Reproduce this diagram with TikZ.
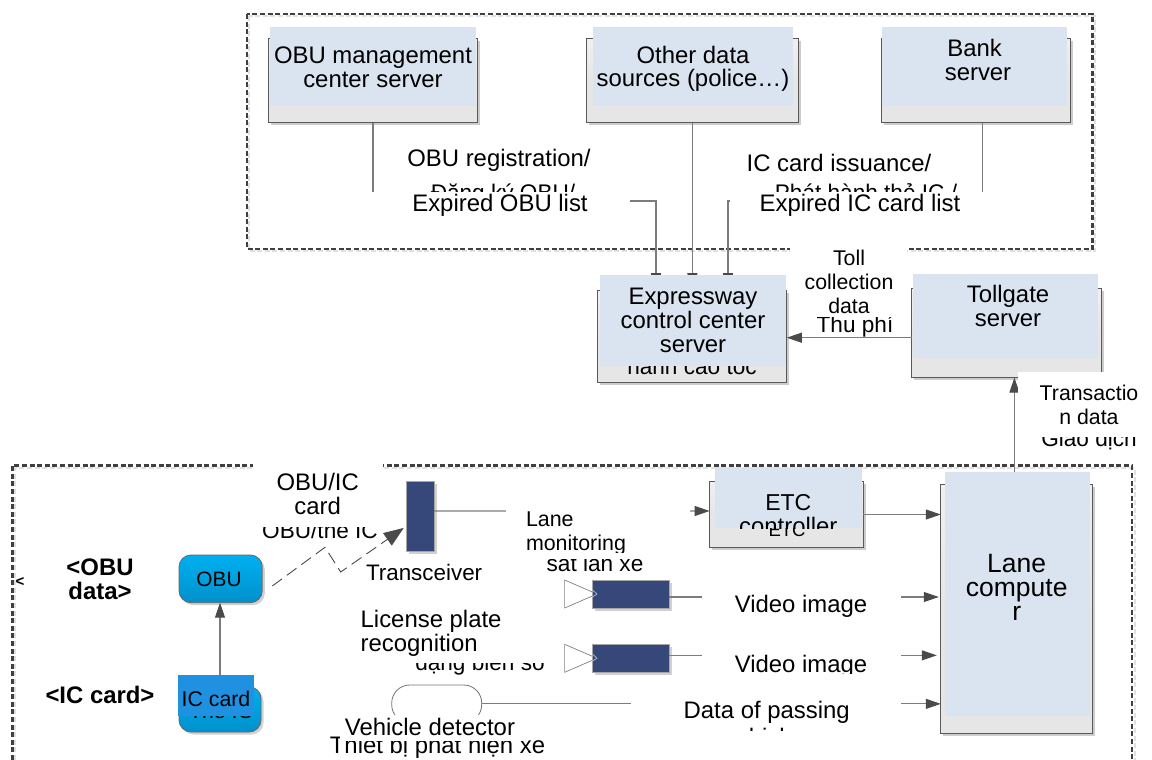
\documentclass[tikz,border=0pt]{standalone}
\usepackage{fontspec}
\setmainfont{Liberation Sans}
\usetikzlibrary{arrows.meta,shadows,calc}
\definecolor{frameC}{HTML}{404040}
\definecolor{lineC}{HTML}{7C7C7C}
\definecolor{tipC}{HTML}{4A4A4A}
\definecolor{paleB}{HTML}{DAE4F0}
\definecolor{grayB}{HTML}{E6E6E6}
\definecolor{navy}{HTML}{364779}
\definecolor{icB}{HTML}{2090E0}
\definecolor{cyTop}{HTML}{00B0F0}
\definecolor{cyBot}{HTML}{0090CC}
\newcommand{\rbox}[6]{%
  \pgfmathsetmacro\rw{#5-#3}\pgfmathsetmacro\rh{#6-#4}%
  \node[#1,minimum width=\rw pt,minimum height=\rh pt,inner sep=0pt,outer sep=0pt] (#2) at ({(#3+#5)/2},{(#4+#6)/2}) {};}
\newcommand{\fs}[1]{\fontsize{#1}{24}\selectfont}
\tikzset{
  frameline/.style={draw=frameC,line width=2.7pt,dash pattern=on 5pt off 2.6pt},
  frameshadow/.style={draw=black!12,line width=2pt,dash pattern=on 5pt off 2.6pt},
  server/.style={draw=black!65,line width=1pt,top color=black!6,bottom color=grayB,middle color=grayB,drop shadow={shadow xshift=2.5pt,shadow yshift=-2.5pt,fill=black!20,opacity=1}},
  paleblue/.style={fill=paleB},
  mask/.style={fill=white},
  navybox/.style={fill=navy,draw=black!35,line width=.5pt,drop shadow={shadow xshift=2.5pt,shadow yshift=-2.5pt,fill=black!18,opacity=1}},
  cyanbox/.style={draw=black!60,line width=.8pt,rounded corners=12pt,top color=cyTop,bottom color=cyBot,drop shadow={shadow xshift=2.5pt,shadow yshift=-2.5pt,fill=black!18,opacity=1}},
  pill/.style={draw=black!55,line width=.8pt,fill=white,rounded corners=18pt},
  conn/.style={draw=lineC,line width=1.1pt,-{Triangle[length=15pt,width=10pt,color=tipC]}},
  longtip/.style={draw=lineC,line width=1.1pt,-{Triangle[length=17.5pt,width=10pt,color=tipC]}},
  wire/.style={draw=tipC,line width=.9pt,dash pattern=on 12pt off 6pt},
  lab/.style={anchor=base,inner sep=0pt,outer sep=0pt,align=center,font=\fs{23.9}},
  labL/.style={lab,align=left,anchor=base west},
  small/.style={lab,font=\fs{21.3}},
  sub/.style={lab,font=\fs{22.6}},
  bold/.style={lab,font=\fs{23.9}\bfseries},
  horn/.style={draw=black!50,line width=.7pt,fill=white}
}
\begin{document}
\begin{tikzpicture}[x=1pt,y=-1pt]
\useasboundingbox (0,0) rectangle (1152,760);
% frames
\draw[frameshadow] (249,16) rectangle (1095,251);
\draw[frameshadow] (15,760) -- (15,468) -- (1135,468) -- (1135,760);
\draw[frameline] (247,14) rectangle (1092.6,249);
\draw[frameline] (12.3,760) -- (12.3,465.7) -- (1132,465.7) -- (1132,760);
% server boxes
\rbox{server}{obu}{268.3}{39}{477.7}{122.7}
\rbox{server}{oth}{586}{39}{798.7}{122.7}
\rbox{server}{bnk}{881.7}{39}{1070}{122.7}
\rbox{server}{exp}{597}{290.7}{786.8}{382.7}
\rbox{server}{tol}{911.7}{288}{1101}{377.7}
\rbox{server}{etc}{709.6}{481.7}{863.3}{547.3}
\rbox{server}{lan}{940.8}{484}{1092}{733.3}
% devices
\rbox{cyanbox}{dobu}{179}{555}{262.3}{602.7}
\rbox{cyanbox}{dic}{179}{686.7}{261}{732}
\rbox{navybox}{trx}{406}{481}{434}{551.7}
\draw[horn] (564.6,580) -- (564.6,608) -- (597,594) -- cycle;
\draw[horn] (564.6,644.3) -- (564.6,672.3) -- (597,658.3) -- cycle;
\rbox{navybox}{cama}{592.5}{580}{669}{608.7}
\rbox{navybox}{camb}{592.5}{644}{669}{672.7}
\draw[white!70!navy,line width=.6pt] (592.5,590) -- (597,594) -- (592.5,597);
\draw[white!70!navy,line width=.6pt] (592.5,654) -- (597,658.3) -- (592.5,661);
\rbox{pill}{det}{391.7}{685}{481.7}{722.7}
% connectors
\coordinate (bendO) at (656,201);
\coordinate (bendI) at (728,201);
\draw[longtip] (obu.south) |- (bendO) -- (bendO |- exp.north);
\draw[longtip] (oth.south) -- (oth.south |- exp.north);
\draw[longtip] ([xshift=6.85pt]bnk.south) |- (bendI) -- (bendI |- exp.north);
\coordinate (cT) at ([yshift=-1pt]exp.east);
\draw[conn] (cT -| tol.west) -- (cT);
\coordinate (cL) at ([xshift=-2pt]lan.north);
\draw[conn] (cL) -- (cL |- tol.south);
\draw[conn] ([yshift=5.35pt]trx.east) -- ([yshift=3.5pt]etc.west);
\draw[conn] (etc.east) -- (etc.east -| lan.west);
\coordinate (cA) at ([yshift=-2.65pt]cama.east);
\coordinate (cB) at ([yshift=3pt]camb.east);
\draw[conn,shorten >=2pt] (cA) -- (cA -| lan.west);
\draw[conn,shorten >=4pt] (cB) -- (cB -| lan.west);
\draw[conn] (det.east) -- (det.east -| lan.west);
\draw[conn] (dic.north) -- (dic.north |- dobu.south);
\coordinate (zA) at ([xshift=10pt,yshift=-7.15pt]dobu.east);
\coordinate (zB) at (325,547.3);
\coordinate (zC) at (340.7,572);
\draw[wire,-{Triangle[length=20pt,width=15pt,color=tipC]},shorten >=2.7pt] (zA) -- (zB) -- (zC) -- ([yshift=-10pt]trx.west);
% under-lying text fragments
\node[sub] (frReg) at (503,200) {Đăng ký OBU/};
\node[sub] (frIss) at (866,200) {Phát hành thẻ IC /};
\node[sub] (frThu) at (855,332.3) {Thu phí};
\node[sub] (frExp) at (692,374) {hành cao tốc};
\node[sub] (frGia) at (1089,446) {Giao dịch};
\node[sub] (frCar) at (320,538.3) {OBU/thẻ IC};
\node[sub] (frSat) at (595,571) {sát làn xe};
\node[sub] (frDan) at (480,670) {dạng biển số};
\node[lab] (frThi) at (437.5,753.3) {Thiết bị phát hiện xe};
\node[lab,font=\fs{18.5}] (frEtc) at (787,536.7) {ETC};
\node[small] (frThe) at (221,718) {Thẻ IC};
% pale boxes
\rbox{paleblue}{obuP}{270}{27}{476}{106}
\rbox{paleblue}{othP}{592.7}{27}{792.7}{106}
\rbox{paleblue}{bnkP}{882}{27}{1067}{106}
\rbox{paleblue}{expP}{600}{275}{785.7}{366}
\rbox{paleblue}{tolP}{913}{274}{1098}{357.7}
\rbox{paleblue}{etcP}{715}{467.3}{861.7}{528.3}
\rbox{paleblue}{lanP}{945.4}{472.3}{1090}{716}
\rbox{fill=icB}{dicP}{178}{675}{254}{715.7}
% white masks
\rbox{mask}{mObu}{350}{192}{630}{226}
\rbox{mask}{mIc}{730}{192}{987}{226}
\rbox{mask}{mTol}{790}{245}{907}{317}
\rbox{mask}{mTra}{1017.7}{371.7}{1139}{437}
\rbox{mask}{mCar}{253}{460}{383}{527}
\rbox{mask}{mMon}{506}{495}{689.6}{559}
\rbox{mask}{mLic}{355}{605}{550}{663}
\rbox{mask}{mVia}{702}{590}{901}{625}
\rbox{mask}{mVib}{702}{650}{901}{674}
\rbox{mask}{mDat}{631}{695}{901}{730}
\rbox{mask}{mDet}{340}{715}{525}{741}
% labels
\node[lab] (tObu) at (373,87.3) {OBU management\\center server};
\node[lab] (tOth) at (693,87) {Other data\\sources (police…)};
\node[lab] (tBnk) at (978,81) {Bank\hspace*{6.6pt}\\server};
\node[lab] (tReg) at (499,166) {OBU registration/};
\node[lab] (tExO) at (500,211) {Expired OBU list};
\node[lab] (tIss) at (839,171.7) {IC card issuance/};
\node[lab] (tExI) at (860,211) {Expired IC card list};
\node[small] (tTol) at (849,313.3) {Toll\\collection\\data};
\node[lab] (tExp) at (693,352) {Expressway\\control center\\server};
\node[lab] (tTgt) at (1008,326) {Tollgate\\server};
\node[small] (tTra) at (1089,424) {Transactio\\n data};
\node[lab] (tCar) at (317.7,514) {OBU/IC\\card};
\node[bold] (tOd) at (100,599.3) {<OBU\\data>};
\node[bold] (tIc) at (100,703) {<IC card>};
\node[bold,font=\fs{15}\bfseries] (tLt) at (20,586) {<};
\node[lab,font=\fs{20.8}] (tOb) at (219,586.7) {OBU};
\node[small] (tIC) at (216,706) {IC card};
\node[labL,font=\fs{22.4}] (tTrx) at (366,580.7) {Transceiver};
\node[labL] (tLic) at (360.7,651.7) {License plate\\recognition};
\node[lab] (tVeh) at (430,735) {Vehicle detector};
\node[lab] (tVia) at (801,612.7) {Video image};
\node[lab] (tDat) at (766.7,718.3) {Data of passing};
\node[lab,font=\fs{26.5}] (tLan) at (1016.7,620.7) {Lane\\compute\\r};
\node[lab,font=\fs{23}] (tEt) at (788.3,510.7) {ETC};
\begin{scope}
  \clip (600,0) rectangle (1000,673.5);
  \node[lab] (tVib) at (801,672.3) {Video image};
\end{scope}
\begin{scope}
  \clip (600,690) rectangle (1000,730);
  \node[lab] (tVeh2) at (766.7,745.5) {vehicles};
\end{scope}
\begin{scope}
  \clip (715,467.3) rectangle (861.7,528.3);
  \node[lab] (tCtl) at (788.3,534.7) {controller};
\end{scope}
\begin{scope}
  \clip (500,495) rectangle (690,552.7);
  \node[labL,font=\fs{21.4}] (tMon) at (526,550.7) {Lane\\monitoring};
\end{scope}
\end{tikzpicture}
\end{document}
